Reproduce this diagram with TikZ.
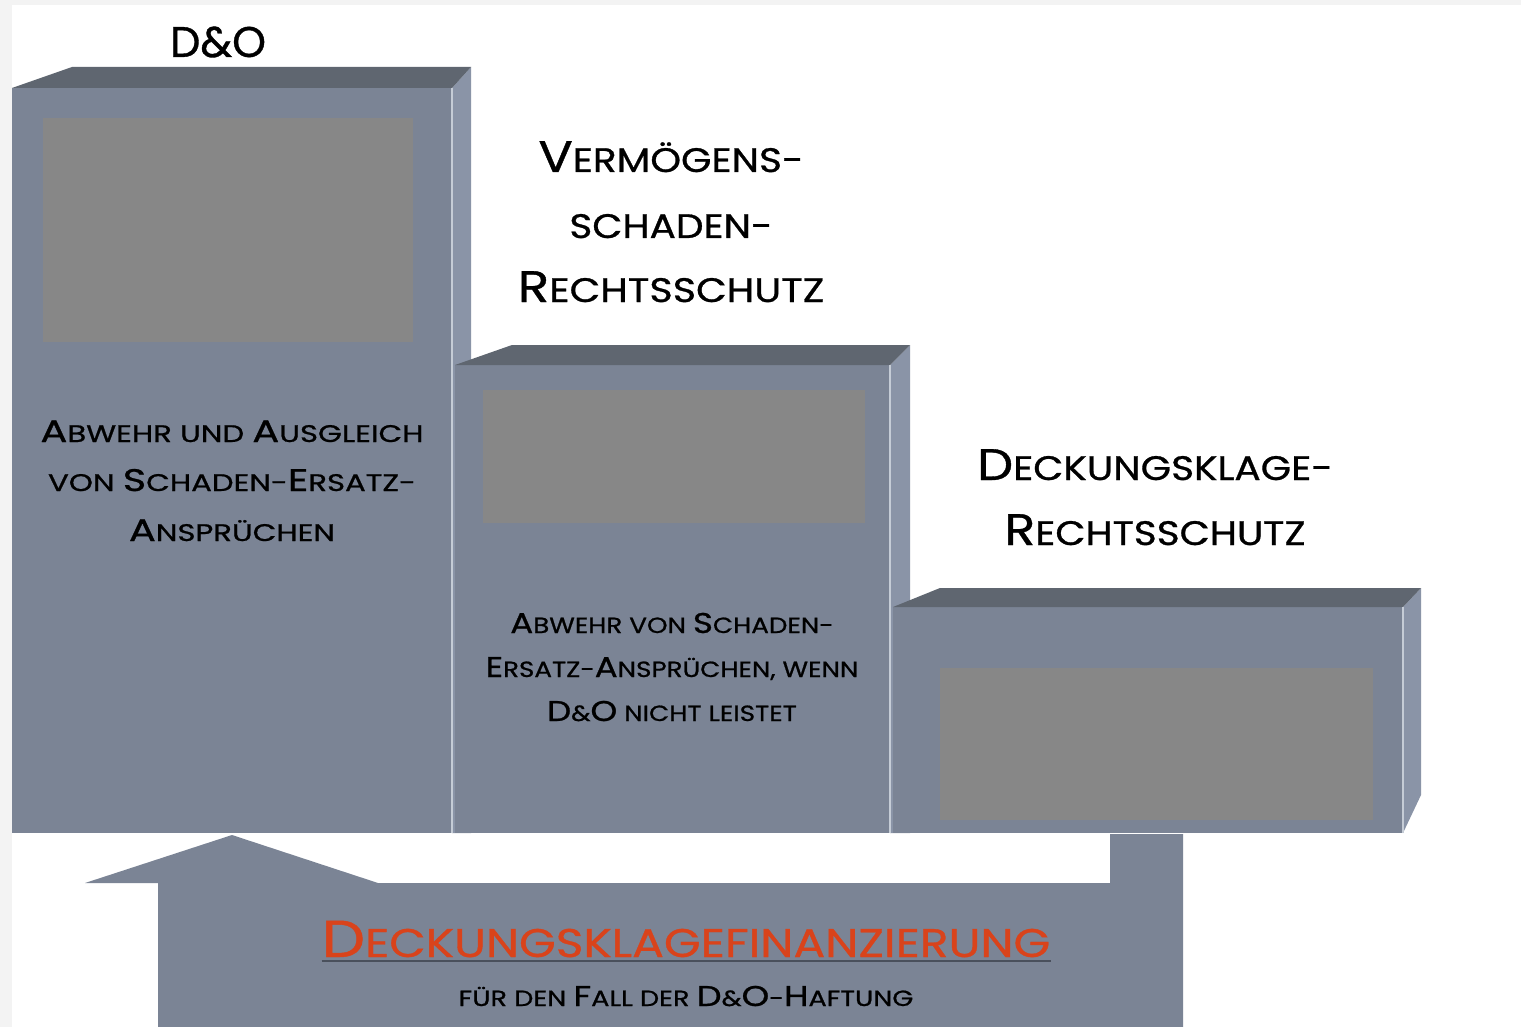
\documentclass[tikz,border=0pt]{standalone}
\usepackage{fontspec}
\setmainfont{Poppins}[FakeBold=0.8]
\usepackage{graphicx}
\newcommand\Bg[1]{\scalebox{1.3}{#1}}
\newcommand\W[2]{\scalebox{#1}[1]{#2}}
\definecolor{frontc}{HTML}{7B8495}
\definecolor{topc}{HTML}{5F6670}
\definecolor{sidec}{HTML}{8A94A7}
\definecolor{innerc}{HTML}{878787}
\definecolor{edgec}{HTML}{C5CCD6}
\definecolor{bgc}{HTML}{F3F3F3}
\definecolor{titlec}{HTML}{D9431B}
\definecolor{ulc}{HTML}{4A505C}
\tikzset{
  front/.style={fill=frontc},
  topface/.style={fill=topc},
  sideface/.style={fill=sidec},
  inner/.style={fill=innerc},
  edge/.style={draw=edgec, line width=1.2pt},
  lbl/.style={inner sep=0pt, anchor=base, text=black},
}
\begin{document}
\begin{tikzpicture}[x=1pt,y=-1pt]
\useasboundingbox (0,0) rectangle (1521,1027);
\fill[bgc] (0,0) rectangle (1521,1027);
\fill[white] (12,5) rectangle (1521,1027);

% box 1
\path[sideface] (452,88) -- (471,67) -- (471,833) -- (452,833) -- cycle;
\path[front] (12,88) rectangle (452,833);
\path[topface] (12,88) -- (72,67) -- (471,67) -- (452,88) -- cycle;
\path[inner] (43,118) rectangle (413,342);
\draw[edge] (452,88) -- (452,833);

% box 2
\path[sideface] (890,365) -- (910,345) -- (910,833) -- (890,833) -- cycle;
\path[front] (455,365) rectangle (890,833);
\path[topface] (455,365) -- (512,345) -- (910,345) -- (890,365) -- cycle;
\path[inner] (483,390) rectangle (865,523);
\draw[edge] (890,365) -- (890,833);

% box 3
\path[sideface] (1403,607) -- (1421,588) -- (1421,795) -- (1403,833) -- cycle;
\path[front] (893,607) rectangle (1403,833);
\path[topface] (893,607) -- (940,588) -- (1421,588) -- (1403,607) -- cycle;
\path[inner] (940,668) rectangle (1373,820);
\draw[edge] (1403,607) -- (1403,833);

% bottom arrow
\path[front] (158,1027) -- (158,883) -- (85,883) -- (232,835) -- (378,883)
  -- (1110,883) -- (1110,834) -- (1183,834) -- (1183,1027) -- cycle;

% texts
\node[lbl, font=\fontsize{43}{43}\selectfont] (do) at (218,57) {D\&O};

\node[lbl, font=\fontsize{34}{34}\selectfont] (v1) at (671,172) {\W{1.15}{\Bg{V}ERMÖGENS-}};
\node[lbl, font=\fontsize{34}{34}\selectfont] (v2) at (671,238) {\W{1.15}{SCHADEN-}};
\node[lbl, font=\fontsize{34}{34}\selectfont] (v3) at (671,302) {\W{1.17}{\Bg{R}ECHTSSCHUTZ}};

\node[lbl, font=\fontsize{24}{24}\selectfont] (a1) at (232,442) {\W{1.28}{\Bg{A}BWEHR UND \Bg{A}USGLEICH}};
\node[lbl, font=\fontsize{24}{24}\selectfont] (a2) at (232,491) {\W{1.28}{VON \Bg{S}CHADEN-\Bg{E}RSATZ-}};
\node[lbl, font=\fontsize{24}{24}\selectfont] (a3) at (232,541) {\W{1.28}{\Bg{A}NSPRÜCHEN}};

\node[lbl, font=\fontsize{22}{22}\selectfont] (b1) at (672,633) {\W{1.19}{\Bg{A}BWEHR VON \Bg{S}CHADEN-}};
\node[lbl, font=\fontsize{22}{22}\selectfont] (b2) at (672,677) {\W{1.19}{\Bg{E}RSATZ-\Bg{A}NSPRÜCHEN, WENN}};
\node[lbl, font=\fontsize{22}{22}\selectfont] (b3) at (672,721) {\W{1.19}{\Bg{D}\&\Bg{O} NICHT LEISTET}};

\node[lbl, font=\fontsize{34}{34}\selectfont] (d1) at (1155,480) {\W{1.15}{\Bg{D}ECKUNGSKLAGE-}};
\node[lbl, font=\fontsize{34}{34}\selectfont] (d2) at (1155,545) {\W{1.15}{\Bg{R}ECHTSSCHUTZ}};

\node[lbl, font=\fontsize{40}{40}\selectfont, text=titlec] (ti) at (686,957) {\W{1.18}{\Bg{D}ECKUNGSKLAGEFINANZIERUNG}};
\draw[ulc, line width=1.2pt] ([yshift=-4pt]ti.base west) -- ([yshift=-4pt]ti.base east);
\node[lbl, font=\fontsize{22}{22}\selectfont] (su) at (686,1006) {\W{1.23}{FÜR DEN \Bg{F}ALL DER \Bg{D}\&\Bg{O}-\Bg{H}AFTUNG}};
\end{tikzpicture}
\end{document}
